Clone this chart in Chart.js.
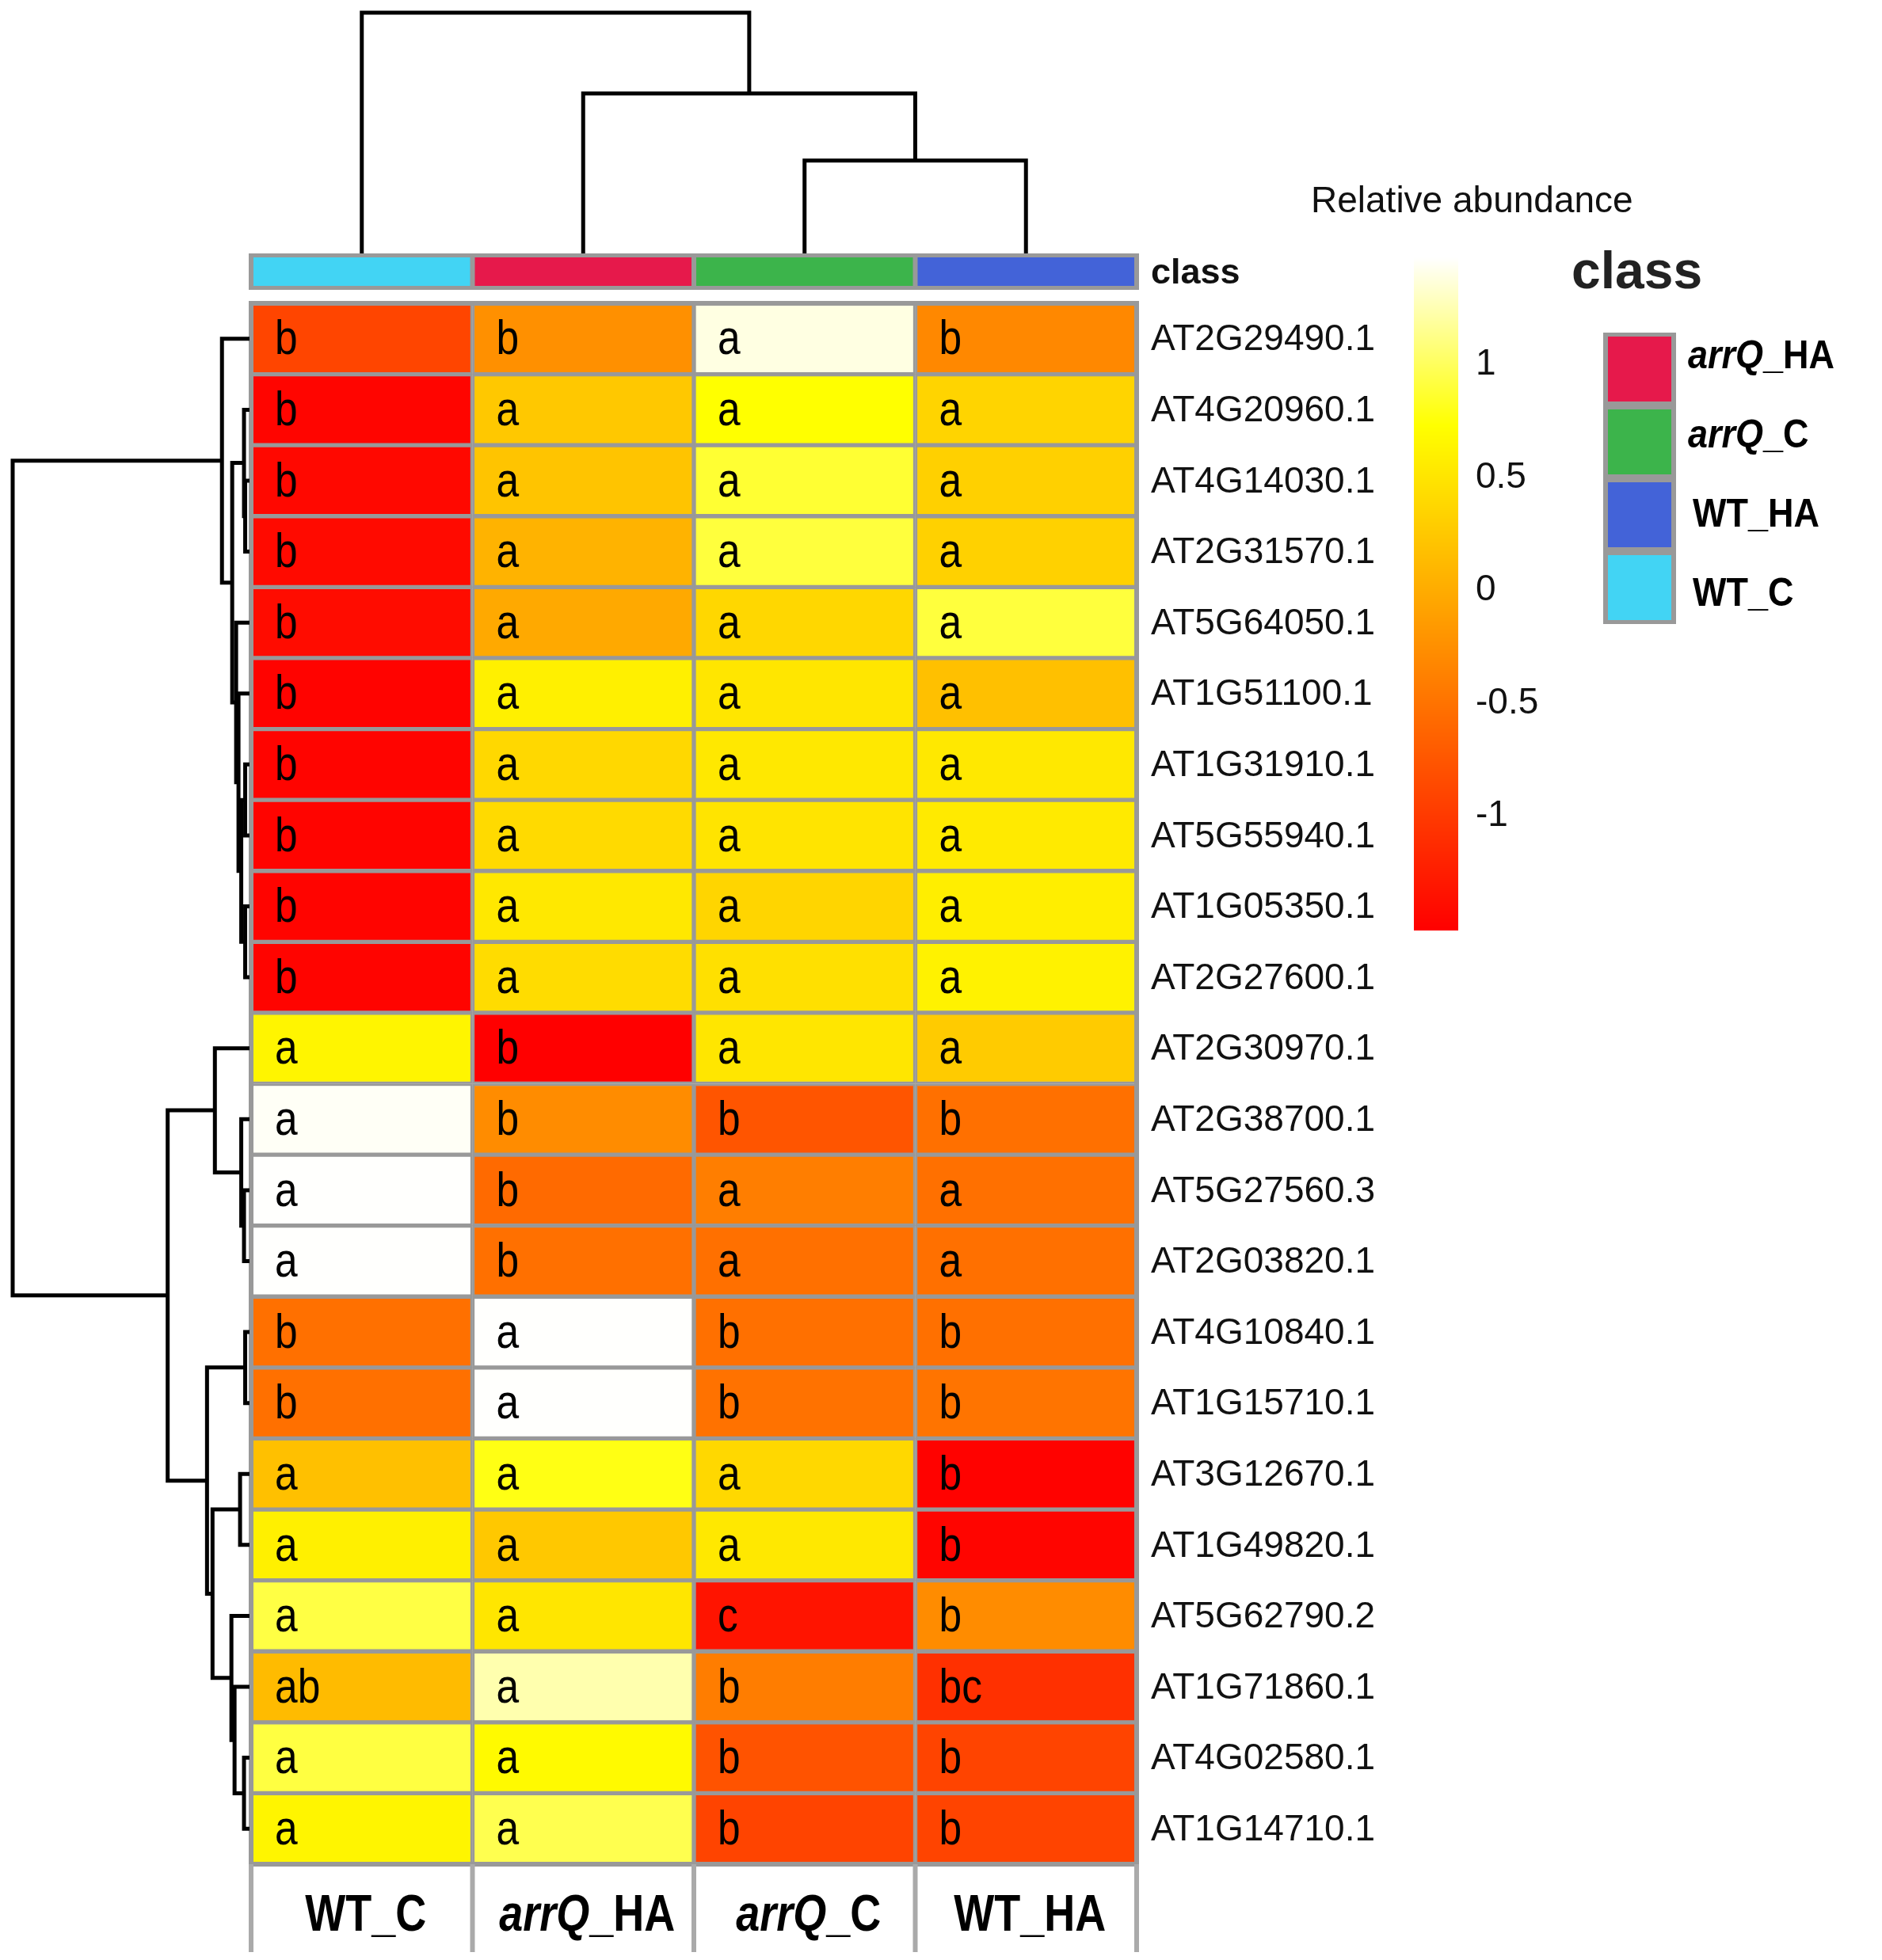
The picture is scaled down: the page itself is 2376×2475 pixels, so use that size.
<!DOCTYPE html>
<html>
<head>
<meta charset="utf-8">
<title>Relative abundance heatmap</title>
<script src="https://cdn.jsdelivr.net/npm/chart.js@4.4.0/dist/chart.umd.min.js"></script>
<style>
    html, body { margin: 0; padding: 0; background: #ffffff; }
    #wrap { width: 2376px; height: 2475px; }
</style>
</head>
<body>
<div id="wrap"><canvas id="heatmapChart" width="2376" height="2475"></canvas></div>
<script>
// rows, top to bottom
var genes = ["AT2G29490.1", "AT4G20960.1", "AT4G14030.1", "AT2G31570.1", "AT5G64050.1",
    "AT1G51100.1", "AT1G31910.1", "AT5G55940.1", "AT1G05350.1", "AT2G27600.1",
    "AT2G30970.1", "AT2G38700.1", "AT5G27560.3", "AT2G03820.1", "AT4G10840.1",
    "AT1G15710.1", "AT3G12670.1", "AT1G49820.1", "AT5G62790.2", "AT1G71860.1",
    "AT4G02580.1", "AT1G14710.1"];

// columns, left to right
var groups = ["WT_C", "arrQ_HA", "arrQ_C", "WT_HA"];

// relative abundance (scaled) per column
var wtC    = [-0.90, -1.46, -1.44, -1.42, -1.40, -1.48, -1.47, -1.47, -1.47, -1.47, 0.64,
              1.45, 1.47, 1.47, -0.52, -0.52, 0.18, 0.60, 0.93, 0.13, 0.92, 0.64];
var arrqHA = [-0.24, 0.25, 0.21, 0.06, -0.02, 0.60, 0.39, 0.41, 0.53, 0.42, -1.51,
              -0.28, -0.58, -0.52, 1.47, 1.47, 0.79, 0.25, 0.51, 1.24, 0.69, 0.96];
var arrqC  = [1.39, 0.73, 0.88, 0.91, 0.38, 0.51, 0.53, 0.49, 0.36, 0.46, 0.51,
              -0.76, -0.40, -0.52, -0.52, -0.51, 0.39, 0.53, -1.33, -0.41, -0.78, -0.91];
var wtHA   = [-0.31, 0.35, 0.32, 0.33, 0.91, 0.18, 0.53, 0.55, 0.58, 0.62, 0.27,
              -0.52, -0.52, -0.52, -0.52, -0.49, -1.49, -1.46, -0.28, -1.09, -0.91, -0.91];

// significance letters per column
var lettersWtC    = ["b", "b", "b", "b", "b", "b", "b", "b", "b", "b", "a", "a", "a", "a", "b", "b", "a", "a", "a", "ab", "a", "a"];
var lettersArrqHA = ["b", "a", "a", "a", "a", "a", "a", "a", "a", "a", "b", "b", "b", "b", "a", "a", "a", "a", "a", "a", "a", "a"];
var lettersArrqC  = ["a", "a", "a", "a", "a", "a", "a", "a", "a", "a", "a", "b", "a", "a", "b", "b", "a", "a", "c", "b", "b", "b"];
var lettersWtHA   = ["b", "a", "a", "a", "a", "a", "a", "a", "a", "a", "a", "b", "a", "a", "b", "b", "b", "b", "b", "bc", "b", "b"];

// colour key
var scaleMin = -1.507;
var scaleMax = 1.476;
var scaleTicks = [1, 0.5, 0, -0.5, -1];
var tickLabels = ["1", "0.5", "0", "-0.5", "-1"];

// class annotation
var classNames = ["arrQ_HA", "arrQ_C", "WT_HA", "WT_C"];
var classColors = ["#e6194b", "#3cb44b", "#4363d8", "#42d4f4"];

// row dendrogram, R style merge list: negative = leaf (row number), positive = earlier merge
var rowMerges = [[-3, -4], [-2, 1], [-7, -8], [-9, -10], [3, 4], [-6, 5], [-5, 6], [2, 7], [-1, 8],
    [-13, -14], [-12, 10], [-11, 11], [-15, -16], [-17, -18], [-21, -22], [-20, 15], [-19, 16],
    [14, 17], [13, 18], [12, 19], [9, 20]];
var rowHeights = [5.5, 7, 5.5, 5.5, 10.5, 14, 17, 22, 35, 7, 10.5, 44, 5.5, 12, 7, 19, 23, 47, 54, 104, 301];

// column dendrogram
var colMerges = [[-3, -4], [-2, 1], [-1, 2]];
var colHeights = [116, 200, 301];

var FONT = '"Liberation Sans", Arial, Helvetica, sans-serif';
var GRID = "#999999";

function heatColor(v) {
    var t = (v - scaleMin) / (scaleMax - scaleMin);
    t = Math.max(0, Math.min(1, t));
    if (t < 0.75) {
        return "rgb(255," + Math.round(255 * t / 0.75) + ",0)";
    }
    return "rgb(255,255," + Math.round(255 * (t - 0.75) / 0.25) + ")";
}

function buildNode(ref, merges, heights, leafPos) {
    if (ref < 0) {
        return { pos: leafPos(-ref - 1), h: 0 };
    }
    var m = merges[ref - 1];
    var a = buildNode(m[0], merges, heights, leafPos);
    var b = buildNode(m[1], merges, heights, leafPos);
    return { pos: (a.pos + b.pos) / 2, h: heights[ref - 1], a: a, b: b };
}

function drawNode(ctx, node, pt) {
    if (!node.a) return;
    var p1 = pt(node.a.pos, node.a.h), p2 = pt(node.a.pos, node.h);
    var p3 = pt(node.b.pos, node.h), p4 = pt(node.b.pos, node.b.h);
    ctx.beginPath();
    ctx.moveTo(p1[0], p1[1]);
    ctx.lineTo(p2[0], p2[1]);
    ctx.lineTo(p3[0], p3[1]);
    ctx.lineTo(p4[0], p4[1]);
    ctx.stroke();
    drawNode(ctx, node.a, pt);
    drawNode(ctx, node.b, pt);
}

// draws a group name with the "arrQ" part in italics, optionally stretched vertically
function drawGroupName(ctx, name, x, y, size, align, stretch) {
    stretch = stretch || 1;
    var italicPart = name.indexOf("arrQ") === 0 ? "arrQ" : "";
    var rest = name.substring(italicPart.length);
    ctx.save();
    ctx.translate(0, y);
    ctx.scale(1, stretch);
    ctx.font = "italic bold " + size + "px " + FONT;
    var w1 = ctx.measureText(italicPart).width;
    ctx.font = "bold " + size + "px " + FONT;
    var w2 = ctx.measureText(rest).width;
    var start = align === "center" ? x - (w1 + w2) / 2 : x;
    ctx.textAlign = "left";
    ctx.textBaseline = "middle";
    ctx.font = "italic bold " + size + "px " + FONT;
    ctx.fillText(italicPart, start, 0);
    ctx.font = "bold " + size + "px " + FONT;
    ctx.fillText(rest, start + w1, 0);
    ctx.restore();
}

var columnValues = [wtC, arrqHA, arrqC, wtHA];
var columnLetters = [lettersWtC, lettersArrqHA, lettersArrqC, lettersWtHA];

var datasets = [];
for (var c = 0; c < groups.length; c++) {
    datasets.push({
        label: groups[c],
        data: genes.map(function () { return 1; }),
        backgroundColor: columnValues[c].map(heatColor),
        borderColor: GRID,
        borderWidth: 3,
        borderSkipped: false,
        categoryPercentage: 1.0,
        barPercentage: 1.0
    });
}

var heatmapDecor = {
    id: "heatmapDecor",
    afterDatasetsDraw: function (chart) {
        var ctx = chart.ctx;
        var area = chart.chartArea;
        ctx.save();
        // outer frame
        ctx.strokeStyle = GRID;
        ctx.lineWidth = 6;
        ctx.strokeRect(area.left, area.top, area.right - area.left, area.bottom - area.top);

        // letters in cells
        ctx.fillStyle = "#000000";
        ctx.textAlign = "left";
        ctx.textBaseline = "middle";
        for (var c = 0; c < groups.length; c++) {
            var meta = chart.getDatasetMeta(c);
            meta.data.forEach(function (bar, i) {
                var left = Math.min(bar.base, bar.x);
                ctx.save();
                ctx.translate(left + 30, bar.y + 3);
                ctx.scale(0.92, 1.08);
                ctx.font = "56px " + FONT;
                ctx.fillText(columnLetters[c][i], 0, 0);
                ctx.restore();
            });
        }
        ctx.restore();
    },
    afterDraw: function (chart) {
        var ctx = chart.ctx;
        var area = chart.chartArea;
        var xs = chart.scales.x;
        var ys = chart.scales.y;
        ctx.save();

        // class bar above the heatmap
        var barTop = 320, barBottom = 366;
        var colClass = groups.map(function (g) { return classColors[classNames.indexOf(g)]; });
        ctx.fillStyle = GRID;
        ctx.fillRect(area.left - 3, barTop, area.right - area.left + 6, barBottom - barTop);
        for (var c = 0; c < groups.length; c++) {
            var x0 = xs.getPixelForValue(c), x1 = xs.getPixelForValue(c + 1);
            ctx.fillStyle = colClass[c];
            ctx.fillRect(x0 + 3, barTop + 5, x1 - x0 - 6, barBottom - barTop - 10);
        }
        ctx.fillStyle = "#111111";
        ctx.font = "bold 45px " + FONT;
        ctx.textAlign = "left";
        ctx.textBaseline = "middle";
        ctx.fillText("class", area.right + 18, (barTop + barBottom) / 2 + 3);

        // row labels
        ctx.font = "46px " + FONT;
        genes.forEach(function (g, i) {
            ctx.fillText(g, area.right + 18, ys.getPixelForValue(i) + 2);
        });

        // column labels and the gray lines under the heatmap
        ctx.strokeStyle = "#aaaaaa";
        ctx.lineWidth = 6;
        for (var k = 0; k <= groups.length; k++) {
            var xl = xs.getPixelForValue(k);
            ctx.beginPath();
            ctx.moveTo(xl, area.bottom);
            ctx.lineTo(xl, area.bottom + 111);
            ctx.stroke();
        }
        ctx.fillStyle = "#000000";
        groups.forEach(function (g, i) {
            drawGroupName(ctx, g, xs.getPixelForValue(i + 0.5) + 5, area.bottom + 66, 54, "center", 1.2);
        });

        // dendrograms
        ctx.strokeStyle = "#000000";
        ctx.lineWidth = 5;
        ctx.lineJoin = "miter";
        ctx.lineCap = "butt";
        var rowMax = Math.max.apply(null, rowHeights);
        var rowRoot = buildNode(rowMerges.length, rowMerges, rowHeights, function (i) {
            return ys.getPixelForValue(i);
        });
        drawNode(ctx, rowRoot, function (pos, h) {
            return [area.left - 2 - h / rowMax * (area.left - 18), pos];
        });
        var colMax = Math.max.apply(null, colHeights);
        var colRoot = buildNode(colMerges.length, colMerges, colHeights, function (i) {
            return xs.getPixelForValue(i + 0.5);
        });
        drawNode(ctx, colRoot, function (pos, h) {
            return [pos, barTop - h / colMax * (barTop - 16)];
        });

        // colour key
        var keyLeft = 1785, keyWidth = 56, keyTop = 325, keyBottom = 1175;
        for (var y = keyTop; y < keyBottom; y++) {
            var v = scaleMax - (y - keyTop + 0.5) / (keyBottom - keyTop) * (scaleMax - scaleMin);
            ctx.fillStyle = heatColor(v);
            ctx.fillRect(keyLeft, y, keyWidth, 1);
        }
        ctx.fillStyle = "#111111";
        ctx.font = "46px " + FONT;
        ctx.textAlign = "left";
        ctx.textBaseline = "middle";
        scaleTicks.forEach(function (t, i) {
            var ty = keyBottom - (t - scaleMin) / (scaleMax - scaleMin) * (keyBottom - keyTop);
            ctx.fillText(tickLabels[i], keyLeft + 78, ty);
        });
        ctx.fillText("Relative abundance", 1655, 255);

        // class legend
        ctx.fillStyle = "#222222";
        ctx.font = "bold 66px " + FONT;
        ctx.fillText("class", 1984, 346);
        var boxLeft = 2024, boxW = 92, boxTop = 420, boxH = 92;
        ctx.fillStyle = GRID;
        ctx.fillRect(boxLeft, boxTop, boxW, boxH * classNames.length);
        classNames.forEach(function (name, i) {
            ctx.fillStyle = classColors[i];
            ctx.fillRect(boxLeft + 6, boxTop + i * boxH + 5, boxW - 12, boxH - 10);
            ctx.fillStyle = "#000000";
            drawGroupName(ctx, name, boxLeft + boxW + 15 + (name.indexOf("WT") === 0 ? 6 : 0),
                451 + i * 100, 45, "left", 1.1);
        });
        ctx.restore();
    }
};

var heatCanvas = document.getElementById("heatmapChart");
var heatChart = new Chart(heatCanvas, {
    type: "bar",
    data: {
        labels: genes,
        datasets: datasets
    },
    options: {
        indexAxis: "y",
        responsive: false,
        maintainAspectRatio: false,
        devicePixelRatio: 1,
        animation: false,
        layout: {
            padding: { left: 317, right: 941, top: 383, bottom: 121 }
        },
        plugins: {
            legend: { display: false },
            tooltip: { enabled: false },
            title: { display: false }
        },
        scales: {
            x: { type: "linear", stacked: true, min: 0, max: 4, display: false },
            y: { type: "category", stacked: true, display: false }
        }
    },
    plugins: [heatmapDecor]
});
</script>
</body>
</html>
